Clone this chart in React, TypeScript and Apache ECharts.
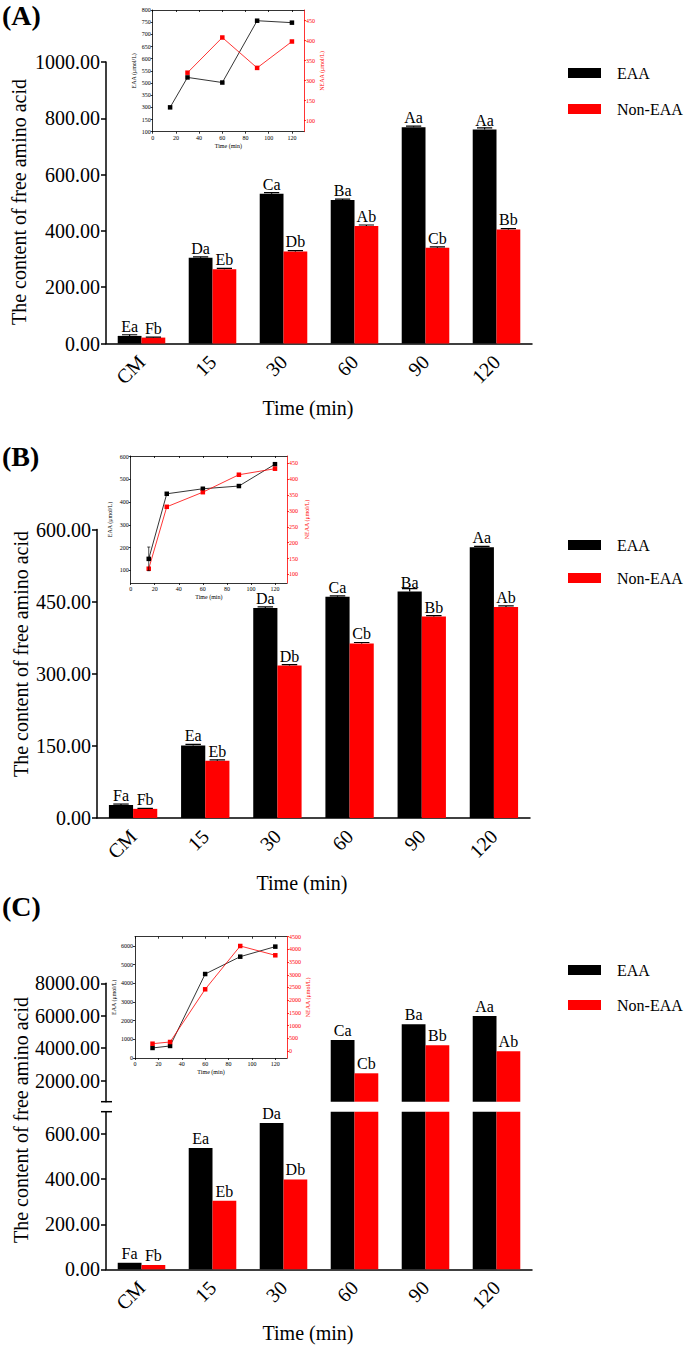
import React, { useEffect, useRef } from 'react';
import * as echarts from 'echarts';

const FONT = "'Liberation Serif', 'Times New Roman', serif";
const RED = '#ff0000';

// ---------- shared ----------
const categories = ['CM', '15', '30', '60', '90', '120'];
const insetTimes = [15, 30, 60, 90, 120];
const insetXTicks = [0, 20, 40, 60, 80, 100, 120];

// ---------- Panel A ----------
const eaaA = [27, 305, 532, 510, 768, 760];
const neaaA = [21, 264, 327, 417, 340, 405];
const eaaErrA = [4, 3, 4, 3, 4, 6];
const neaaErrA = [2, 3, 3, 4, 3, 3];
const lettersEaaA = ['Ea', 'Da', 'Ca', 'Ba', 'Aa', 'Aa'];
const lettersNeaaA = ['Fb', 'Eb', 'Db', 'Ab', 'Cb', 'Bb'];
const insetEaaA = [300, 523, 502, 756, 748];
const insetNeaaTimesA = [30, 60, 90, 120];
const insetNeaaA = [320, 408, 332, 398];
const insetLeftTicksA = [100, 150, 300, 350, 500, 550, 600, 650, 700, 750, 800];
const insetRightTicksA = [100, 150, 300, 350, 400, 450];

// ---------- Panel B ----------
const eaaB = [27, 151, 437, 460, 471, 563];
const neaaB = [19, 119, 317, 363, 419, 439];
const eaaErrB = [2, 2, 2, 2, 6, 2];
const neaaErrB = [1, 2, 2, 2, 2, 2];
const lettersEaaB = ['Fa', 'Ea', 'Da', 'Ca', 'Ba', 'Aa'];
const lettersNeaaB = ['Fb', 'Eb', 'Db', 'Cb', 'Bb', 'Ab'];
const insetEaaB = [151, 437, 459, 471, 567];
const insetEaaErrB = [52, 4, 6, 6, 6];
const insetNeaaB = [118, 313, 359, 414, 433];
const insetLeftTicksB = [100, 200, 300, 400, 500, 600];
const insetRightTicksB = [100, 150, 200, 250, 300, 350, 400, 450];

// ---------- Panel C ----------
const eaaC = [29, 539, 650, 4504, 5472, 5984];
const neaaC = [19, 304, 399, 2451, 4177, 3807];
const lettersEaaC = ['Fa', 'Ea', 'Da', 'Ca', 'Ba', 'Aa'];
const lettersNeaaC = ['Fb', 'Eb', 'Db', 'Cb', 'Bb', 'Ab'];
const yTicksCLow = [0, 200, 400, 600];
const yTicksCHigh = [2000, 4000, 6000, 8000];
const insetEaaC = [538, 645, 4500, 5430, 5968];
const insetNeaaC = [287, 354, 2429, 4134, 3768];
const insetLeftTicksC = [0, 1000, 2000, 3000, 4000, 5000, 6000];
const insetRightTicksC = [0, 500, 1000, 1500, 2000, 2500, 3000, 3500, 4000, 4500];

const BAR_GAP = 0.33;

// broken (piecewise) axis: tick i sits at display position i
function toBroken(v: number, ticks: number[]): number {
  const n = ticks.length;
  if (v <= ticks[1]) return (v - ticks[0]) / (ticks[1] - ticks[0]);
  for (let i = 1; i < n - 1; i++) {
    if (v <= ticks[i + 1]) return i + (v - ticks[i]) / (ticks[i + 1] - ticks[i]);
  }
  return n - 2 + (v - ticks[n - 2]) / (ticks[n - 1] - ticks[n - 2]);
}

function mainYAxis(gridIndex: number, extra: any) {
  return {
    type: 'value',
    gridIndex,
    axisLine: { show: true, lineStyle: { color: '#000', width: 1.5 } },
    axisTick: { show: true, length: 5, lineStyle: { color: '#000', width: 1.5 } },
    axisLabel: {
      fontFamily: FONT, fontSize: 20, color: '#000', margin: 6,
      formatter: (v: number) => v.toFixed(2),
    },
    splitLine: { show: false },
    ...extra,
  };
}

function mainXAxis(gridIndex: number, show: boolean) {
  return {
    type: 'category',
    gridIndex,
    data: categories,
    show,
    axisLine: { show: true, onZero: false, lineStyle: { color: '#000', width: 1.5 } },
    axisTick: { show: false },
    axisLabel: { fontFamily: FONT, fontSize: 20, color: '#000', rotate: 45, margin: 15, interval: 0 },
    splitLine: { show: false },
  };
}

function barSeries(name: string, color: string, xi: number, yi: number, data: number[], letters: string[], lo = -Infinity, hi = Infinity) {
  return {
    type: 'bar',
    name,
    xAxisIndex: xi,
    yAxisIndex: yi,
    data,
    barGap: '0%',
    barCategoryGap: BAR_GAP * 100 + '%',
    itemStyle: { color },
    clip: true,
    z: 2,
    label: {
      show: true, position: 'top', distance: 3, lineHeight: 13,
      fontFamily: FONT, fontSize: 16, color: '#000',
      formatter: (p: any) => (p.value >= lo && p.value <= hi ? letters[p.dataIndex] : ''),
    },
  };
}

function errSeries(xi: number, yi: number, data: number[], errs: number[], side: number) {
  return {
    type: 'custom',
    xAxisIndex: xi,
    yAxisIndex: yi,
    silent: true,
    clip: true,
    z: 3,
    data: data.map((v, i) => [i, v, errs[i]]),
    renderItem: (_params: any, api: any) => {
      const i = api.value(0);
      const v = api.value(1);
      const e = api.value(2);
      const band = api.size([1, 0])[0];
      const bw = (band * (1 - BAR_GAP)) / 2;
      const cx = api.coord([i, v])[0] + (side * bw) / 2;
      const yTop = api.coord([i, v + e])[1];
      const yVal = api.coord([i, v])[1];
      const hw = bw * 0.32;
      const st = { stroke: '#000', lineWidth: 1.2 };
      return {
        type: 'group',
        children: [
          { type: 'line', shape: { x1: cx, y1: yTop, x2: cx, y2: yVal }, style: st },
          { type: 'line', shape: { x1: cx - hw, y1: yTop, x2: cx + hw, y2: yTop }, style: st },
        ],
      };
    },
  };
}

function insetErr(xi: number, yi: number, xs: number[], ys: number[], errs: number[]) {
  return {
    type: 'custom',
    xAxisIndex: xi,
    yAxisIndex: yi,
    silent: true,
    z: 6,
    data: xs.map((x, i) => [x, ys[i], errs[i]]),
    renderItem: (_p: any, api: any) => {
      const x = api.value(0), v = api.value(1), e = api.value(2);
      const p0 = api.coord([x, v - e]);
      const p1 = api.coord([x, v + e]);
      const st = { stroke: '#000', lineWidth: 0.7 };
      return {
        type: 'group',
        children: [
          { type: 'line', shape: { x1: p0[0], y1: p0[1], x2: p1[0], y2: p1[1] }, style: st },
          { type: 'line', shape: { x1: p1[0] - 1.5, y1: p1[1], x2: p1[0] + 1.5, y2: p1[1] }, style: st },
          { type: 'line', shape: { x1: p0[0] - 1.5, y1: p0[1], x2: p0[0] + 1.5, y2: p0[1] }, style: st },
        ],
      };
    },
  };
}

const insetText = { fontFamily: FONT, fontSize: 6, color: '#000' };
const insetRedText = { fontFamily: FONT, fontSize: 6, color: RED };

function insetXAxes(gridIndex: number, max: number) {
  const ls = { color: '#000', width: 0.8 };
  return [
    {
      type: 'value', gridIndex, min: 0, max, position: 'bottom',
      axisLine: { show: true, onZero: false, lineStyle: ls },
      axisTick: { show: true, length: 2, customValues: insetXTicks, lineStyle: ls },
      axisLabel: { ...insetText, margin: 3, lineHeight: 6, customValues: insetXTicks },
      splitLine: { show: false },
      name: 'Time (min)', nameLocation: 'middle', nameGap: 11, nameTextStyle: insetText,
    },
    {
      type: 'value', gridIndex, min: 0, max, position: 'top',
      axisLine: { show: true, onZero: false, lineStyle: ls },
      axisTick: { show: true, inside: true, length: 2, customValues: insetXTicks, lineStyle: ls },
      axisLabel: { show: false },
      splitLine: { show: false },
    },
  ];
}

function insetYAxis(gridIndex: number, right: boolean, min: number, max: number, ticks: number[], labels: (v: number) => string, name: string, nameGap: number) {
  const color = right ? RED : '#000';
  const ls = { color, width: 0.8 };
  return {
    type: 'value', gridIndex, min, max, position: right ? 'right' : 'left',
    axisLine: { show: true, onZero: false, lineStyle: ls },
    axisTick: { show: true, length: 2, customValues: ticks, lineStyle: ls },
    axisLabel: { ...(right ? insetRedText : insetText), margin: 2, customValues: ticks, formatter: labels },
    splitLine: { show: false },
    name, nameLocation: 'middle', nameGap, nameRotate: 90,
    nameTextStyle: right ? insetRedText : insetText,
  };
}

function insetLine(name: string, color: string, xi: number, yi: number, xs: number[], ys: number[]) {
  return {
    type: 'line', name, xAxisIndex: xi, yAxisIndex: yi,
    data: xs.map((x, i) => [x, ys[i]]),
    symbol: 'rect', symbolSize: 4.5,
    itemStyle: { color },
    lineStyle: { color, width: 0.8 },
    z: 5,
  };
}

function titleText(text: string, x: number, y: number, rotate = false) {
  return {
    type: 'text', x, y, rotation: rotate ? Math.PI / 2 : 0,
    style: { text, font: `20px ${FONT}`, fill: '#000', textAlign: 'center', textVerticalAlign: 'middle' },
  };
}

function panelLabel(text: string, y: number) {
  return {
    type: 'text', x: 2, y,
    style: { text, font: `bold 28px ${FONT}`, fill: '#000', textAlign: 'left', textVerticalAlign: 'middle' },
  };
}

function legend(top: number, gap: number) {
  return {
    left: 563, top, orient: 'vertical', itemWidth: 33, itemHeight: 10, itemGap: gap,
    data: ['EAA', 'Non-EAA'], selectedMode: false, icon: 'rect',
    textStyle: { fontFamily: FONT, fontSize: 16, color: '#000', padding: [0, 0, 0, 11], lineHeight: 18 },
  };
}

export default function App() {
  const ref = useRef<HTMLDivElement>(null);

  useEffect(() => {
    if (!ref.current) return;
    const chart = echarts.init(ref.current, null, { renderer: 'svg' });

    const brokenLeftA = insetEaaA.map((v) => toBroken(v, insetLeftTicksA));
    const brokenRightA = insetNeaaA.map((v) => toBroken(v, insetRightTicksA));

    const option: any = {
      animation: false,
      backgroundColor: '#fff',
      textStyle: { fontFamily: FONT },
      grid: [
        { left: 106, top: 62, width: 426, height: 281.5 },          // 0 A main
        { left: 152.7, top: 10, width: 151.3, height: 121.7 },      // 1 A inset
        { left: 97, top: 529.5, width: 433, height: 288.5 },        // 2 B main
        { left: 130.7, top: 456, width: 156.3, height: 127 },       // 3 B inset
        { left: 106, top: 983.3, width: 426, height: 118.4 },       // 4 C upper
        { left: 106, top: 1111.7, width: 426, height: 157.6 },      // 5 C lower
        { left: 135, top: 936.7, width: 152, height: 121.3 },       // 6 C inset
      ],
      legend: [legend(59, 18), legend(531, 15), legend(956, 17)],
      xAxis: [
        mainXAxis(0, true),            // 0
        ...insetXAxes(1, 130.4),       // 1,2
        mainXAxis(2, true),            // 3
        ...insetXAxes(3, 130),         // 4,5
        mainXAxis(4, false),           // 6
        mainXAxis(5, true),            // 7
        ...insetXAxes(6, 130),         // 8,9
      ],
      yAxis: [
        mainYAxis(0, { min: 0, max: 1000, interval: 200 }),                                    // 0
        insetYAxis(1, false, 0, 10, insetLeftTicksA.map((_, i) => i), (d) => String(insetLeftTicksA[Math.round(d)]), 'EAA (μmol/L)', 16), // 1
        insetYAxis(1, true, -0.55, 5.535, insetRightTicksA.map((_, i) => i), (d) => String(insetRightTicksA[Math.round(d)]), 'NEAA (μmol/L)', 14), // 2
        mainYAxis(2, { min: 0, max: 600, interval: 150 }),                                     // 3
        insetYAxis(3, false, 45, 603, insetLeftTicksB, (v) => String(v), 'EAA (μmol/L)', 18),   // 4
        insetYAxis(3, true, 73, 473, insetRightTicksB, (v) => String(v), 'NEAA (μmol/L)', 17),  // 5
        mainYAxis(4, { min: 700, max: 8000, axisTick: { show: true, length: 5, customValues: yTicksCHigh, lineStyle: { color: '#000', width: 1.5 } }, axisLabel: { fontFamily: FONT, fontSize: 20, color: '#000', margin: 6, customValues: yTicksCHigh, formatter: (v: number) => v.toFixed(2) } }), // 6
        mainYAxis(5, { min: 0, max: 700, axisTick: { show: true, length: 5, customValues: yTicksCLow, lineStyle: { color: '#000', width: 1.5 } }, axisLabel: { fontFamily: FONT, fontSize: 20, color: '#000', margin: 6, customValues: yTicksCLow, formatter: (v: number) => v.toFixed(2) } }), // 7
        insetYAxis(6, false, 0, 6500, insetLeftTicksC, (v) => String(v), 'EAA (μmol/L)', 18),   // 8
        insetYAxis(6, true, -276, 4500, insetRightTicksC, (v) => String(v), 'NEAA (μmol/L)', 17), // 9
      ],
      series: [
        // Panel A
        barSeries('EAA', '#000', 0, 0, eaaA, lettersEaaA),
        barSeries('Non-EAA', RED, 0, 0, neaaA, lettersNeaaA),
        errSeries(0, 0, eaaA, eaaErrA, -1),
        errSeries(0, 0, neaaA, neaaErrA, 1),
        insetLine('EAA', '#000', 1, 1, insetTimes, brokenLeftA),
        insetLine('Non-EAA', RED, 1, 2, insetNeaaTimesA, brokenRightA),
        // Panel B
        barSeries('EAA', '#000', 3, 3, eaaB, lettersEaaB),
        barSeries('Non-EAA', RED, 3, 3, neaaB, lettersNeaaB),
        errSeries(3, 3, eaaB, eaaErrB, -1),
        errSeries(3, 3, neaaB, neaaErrB, 1),
        insetErr(4, 4, insetTimes, insetEaaB, insetEaaErrB),
        insetLine('EAA', '#000', 4, 4, insetTimes, insetEaaB),
        insetLine('Non-EAA', RED, 4, 5, insetTimes, insetNeaaB),
        // Panel C (broken axis: upper and lower segments)
        barSeries('EAA', '#000', 6, 6, eaaC, lettersEaaC, 700, Infinity),
        barSeries('Non-EAA', RED, 6, 6, neaaC, lettersNeaaC, 700, Infinity),
        barSeries('EAA', '#000', 7, 7, eaaC, lettersEaaC, -Infinity, 700),
        barSeries('Non-EAA', RED, 7, 7, neaaC, lettersNeaaC, -Infinity, 700),
        insetLine('EAA', '#000', 8, 8, insetTimes, insetEaaC),
        insetLine('Non-EAA', RED, 8, 9, insetTimes, insetNeaaC),
      ],
      graphic: [
        panelLabel('(A)', 15),
        panelLabel('(B)', 456),
        panelLabel('(C)', 906),
        titleText('The content of free amino acid', 19, 202, true),
        titleText('The content of free amino acid', 21, 654, true),
        titleText('The content of free amino acid', 21, 1120, true),
        titleText('Time (min)', 308, 408),
        titleText('Time (min)', 302, 883),
        titleText('Time (min)', 308, 1333),
        { type: 'line', shape: { x1: 101, y1: 1101.7, x2: 112, y2: 1101.7 }, style: { stroke: '#000', lineWidth: 1.5 } },
        { type: 'line', shape: { x1: 101, y1: 1111.7, x2: 112, y2: 1111.7 }, style: { stroke: '#000', lineWidth: 1.5 } },
      ],
    };

    chart.setOption(option);
    return () => chart.dispose();
  }, []);

  return (
    <div
      ref={ref}
      style={{ position: 'absolute', left: 0, top: 0, width: 685, height: 1351, background: '#fff' }}
    />
  );
}
